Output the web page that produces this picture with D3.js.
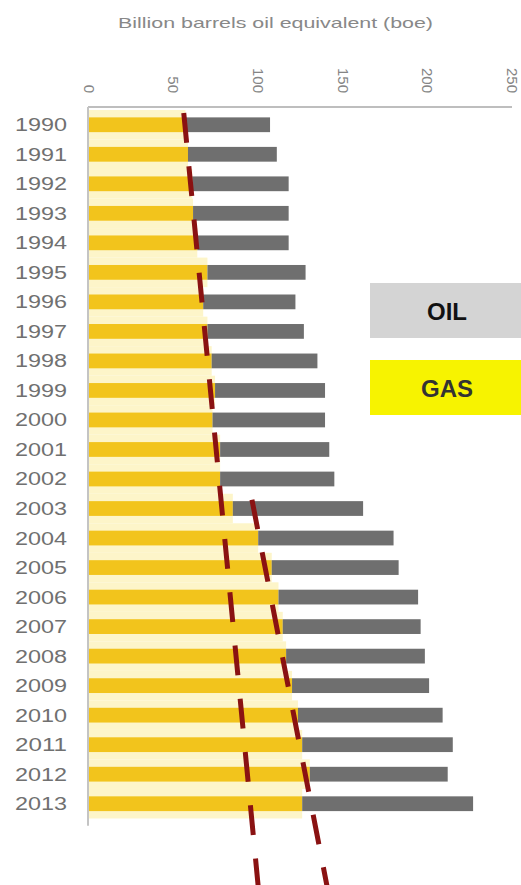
<!DOCTYPE html>
<html>
<head>
  <meta charset="UTF-8">
  <title>Oil and gas</title>
  <style>
    body { margin: 0; background: #fff; }
    text { font-family: "Liberation Sans", Arial, sans-serif; }
  </style>
</head>
<body>
  <script src="https://d3js.org/d3.v7.min.js" charset="utf-8"></script>
  <script>
    // datos
    let years = ["1990","1991","1992","1993","1994","1995","1996","1997","1998","1999","2000","2001",
                 "2002","2003","2004","2005","2006","2007","2008","2009","2010","2011","2012","2013"];
    let gas = [57, 58.5, 61, 61.5, 64, 70, 67.5, 70, 72.5, 74.5, 73, 77.5,
               77.5, 85, 100, 108, 112, 114.5, 116.5, 120, 123.5, 126, 130.5, 126];
    let oil = [50, 52.5, 57, 56.5, 54, 58, 54.5, 57, 62.5, 65, 66.5, 64.5,
               67.5, 77, 80, 75, 82.5, 81.5, 82, 81, 85.5, 89, 81.5, 101];
    let xTicks = [0, 50, 100, 150, 200, 250];
    // lineas de tendencia: [año, valor]
    let trend1 = [[1989.6, 56], [2015.8, 100]];
    let trend2 = [[2002.7, 96.3], [2015.8, 140.7]];
    let legendLabels = ["OIL", "GAS"];
    let title = "Billion barrels oil equivalent (boe)";

    let width = 521;
    let height = 885;

    let svg = d3.select('body')
      .append('svg')
      .attr('width', width)
      .attr('height', height);

    // escalas
    let x = d3.scaleLinear().domain([0, 250]).range([89, 512]);
    let y = d3.scaleBand().domain(years).range([110, 110 + 24 * 29.52])
      .paddingInner(0.5).paddingOuter(0.25);
    let step = y.step();
    let yYear = d3.scaleLinear()
      .domain([1990, 2013])
      .range([y("1990") + y.bandwidth() / 2, y("2013") + y.bandwidth() / 2]);

    // fondo amarillo claro del gas
    svg.selectAll('rect.pale')
      .data(gas)
      .enter()
      .append('rect')
      .attr('class', 'pale')
      .attr('fill', '#fdf5c9')
      .attr('x', x(0))
      .attr('y', function (d, i) { return y(years[i]) + y.bandwidth() / 2 - step / 2; })
      .attr('width', function (d) { return x(d) - x(0); })
      .attr('height', step);

    // barras de gas
    svg.selectAll('rect.gas')
      .data(gas)
      .enter()
      .append('rect')
      .attr('class', 'gas')
      .attr('fill', '#f2c41c')
      .attr('x', x(0))
      .attr('y', function (d, i) { return y(years[i]); })
      .attr('width', function (d) { return x(d) - x(0); })
      .attr('height', y.bandwidth());

    // barras de petroleo, apiladas
    svg.selectAll('rect.oil')
      .data(oil)
      .enter()
      .append('rect')
      .attr('class', 'oil')
      .attr('fill', '#6f6f6f')
      .attr('x', function (d, i) { return x(gas[i]); })
      .attr('y', function (d, i) { return y(years[i]); })
      .attr('width', function (d, i) { return x(gas[i] + d) - x(gas[i]); })
      .attr('height', y.bandwidth());

    // ejes
    svg.append('line')
      .attr('x1', x(0) - 1).attr('x2', x(250))
      .attr('y1', 107).attr('y2', 107)
      .style('stroke', '#a8a8a8').style('stroke-width', 1.5);
    svg.append('line')
      .attr('x1', x(0) - 1).attr('x2', x(0) - 1)
      .attr('y1', 107).attr('y2', y("2013") + step)
      .style('stroke', '#c4c4c4').style('stroke-width', 2);

    // etiquetas del eje x giradas
    svg.selectAll('text.xt')
      .data(xTicks)
      .enter()
      .append('text')
      .attr('class', 'xt')
      .attr('fill', '#858585')
      .attr('font-size', '15px')
      .attr('text-anchor', 'end')
      .attr('dy', '0.35em')
      .attr('transform', function (d) { return 'translate(' + x(d) + ',93) rotate(90)'; })
      .text(function (d) { return d; });

    // etiquetas de años
    svg.selectAll('text.yt')
      .data(years)
      .enter()
      .append('text')
      .attr('class', 'yt')
      .attr('fill', '#707070')
      .attr('font-size', '18px')
      .attr('x', 15)
      .attr('y', function (d) { return y(d) + y.bandwidth() / 2; })
      .attr('dy', '0.36em')
      .attr('textLength', 52)
      .attr('lengthAdjust', 'spacingAndGlyphs')
      .text(function (d) { return d; });

    // titulo
    svg.append('text')
      .attr('fill', '#888')
      .attr('font-size', '15px')
      .attr('x', 118)
      .attr('y', 28)
      .attr('textLength', 315)
      .attr('lengthAdjust', 'spacingAndGlyphs')
      .text(title);

    // lineas de tendencia discontinuas
    let line = d3.line()
      .x(function (d) { return x(d[1]); })
      .y(function (d) { return yYear(d[0]); });
    [trend1, trend2].forEach(function (t) {
      svg.append('path')
        .datum(t)
        .attr('d', line)
        .attr('fill', 'none')
        .style('stroke', '#8a1212')
        .style('stroke-width', 5)
        .style('stroke-dasharray', '30,23.5');
    });

    // leyenda
    let legendFill = ['#d4d4d4', '#f7f300'];
    let legendText = ['#111', '#333'];
    let legendY = [283, 360];
    legendLabels.forEach(function (l, i) {
      svg.append('rect')
        .attr('x', 370).attr('y', legendY[i])
        .attr('width', 151).attr('height', 55)
        .attr('fill', legendFill[i]);
      svg.append('text')
        .attr('x', 447)
        .attr('y', legendY[i] + 28)
        .attr('dy', '0.36em')
        .attr('text-anchor', 'middle')
        .attr('font-size', '24px')
        .attr('font-weight', 'bold')
        .attr('fill', legendText[i])
        .text(l);
    });
  </script>
</body>
</html>
